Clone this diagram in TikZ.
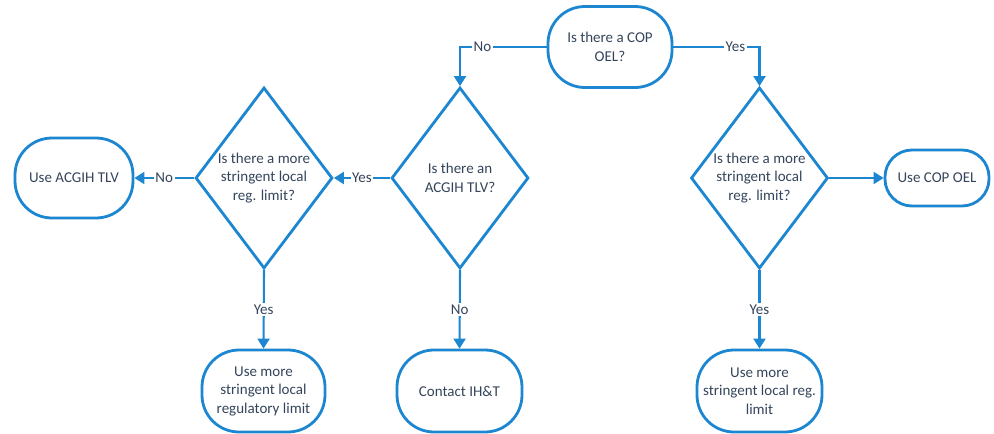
\documentclass[tikz,border=0pt]{standalone}
\usepackage{fontspec}
\setmainfont{Carlito}
\usetikzlibrary{shapes.geometric,arrows.meta}
\definecolor{fcblue}{RGB}{28,134,208}
\definecolor{fctext}{RGB}{52,68,90}
\begin{document}
\begin{tikzpicture}[x=1pt,y=-1pt,
  every node/.style={font=\fontsize{15}{18.5}\selectfont, text=fctext},
  term/.style={draw=fcblue, line width=2.8pt, rounded corners=37pt, align=center, inner sep=0pt},
  decision/.style={diamond, draw=fcblue, line width=2.8pt, aspect=0.75, minimum width=137pt, minimum height=181pt, inner sep=0pt, align=center},
  link/.style={draw=fcblue, line width=2.1pt, -{Triangle[width=12pt,length=10pt]}},
  lbl/.style={fill=white, inner sep=1.5pt}]
\useasboundingbox (0,0) rectangle (994,434);
\node[term, minimum width=124pt, minimum height=81pt] (cop) at (610,47) {Is there a COP\\OEL?};
\node[decision] (acg) at (460,178) {Is there an\\ACGIH TLV?};
\node[decision] (ldec) at (264,178) {Is there a more\\stringent local\\reg. limit?};
\node[decision] (rdec) at (759.5,178) {Is there a more\\stringent local\\reg. limit?};
\node[term, minimum width=118pt, minimum height=80pt] (useacg) at (74,178) {Use ACGIH TLV};
\node[term, minimum width=104pt, minimum height=56pt, rounded corners=27pt] (usecop) at (937,178) {Use COP OEL};
\node[term, minimum width=123pt, minimum height=82pt] (lres) at (263.5,391) {Use more\\stringent local\\regulatory limit};
\node[term, minimum width=125pt, minimum height=82pt] (ih) at (459.5,391) {Contact IH\&T};
\node[term, minimum width=125pt, minimum height=82pt] (rres) at (759.5,391) {Use more\\stringent local reg.\\limit};
\draw[link] (cop.west) -| node[lbl, pos=0.37]{No} (acg.north);
\draw[link] (cop.east) -| node[lbl, pos=0.36]{Yes} (rdec.north);
\draw[link] (acg.west) -- node[lbl]{Yes} (ldec.east);
\draw[link] (ldec.west) -- node[lbl]{No} (useacg.east);
\draw[link] (ldec.south) -- node[lbl]{Yes} (lres.north);
\draw[link] (acg.south) -- node[lbl]{No} (ih.north);
\draw[link] (rdec.south) -- node[lbl]{Yes} (rres.north);
\draw[link] (rdec.east) -- (usecop.west);
\end{tikzpicture}
\end{document}
